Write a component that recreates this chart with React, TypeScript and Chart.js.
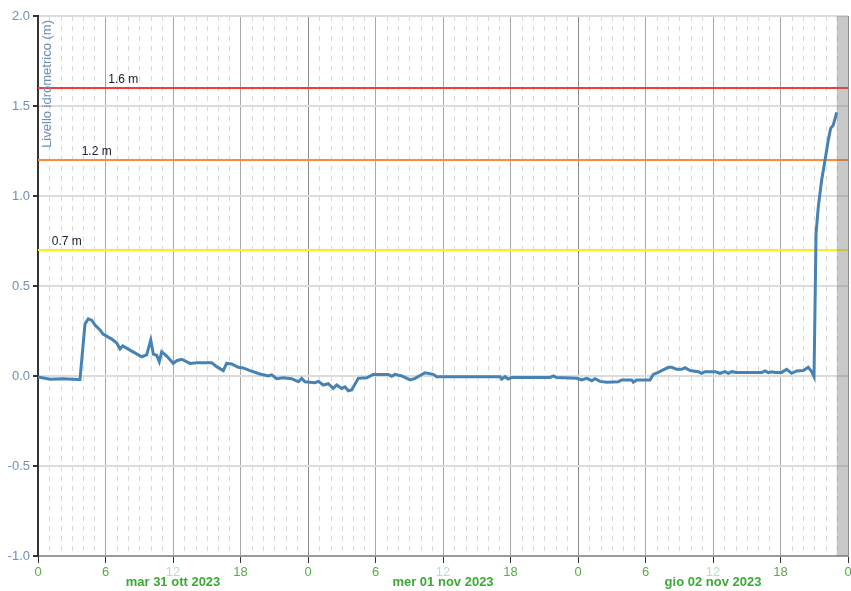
import React, { useEffect, useRef } from "react";
import { Chart, registerables } from "chart.js";

Chart.register(...registerables);

// Hours since mar 31 ott 2023 00:00
const hours = [
  0, 1.07, 2.22, 3.56, 3.73, 4.18, 4.47, 4.77, 5.07, 5.51, 5.78, 6.55, 7.0, 7.29, 7.53, 8.18,
  9.22, 9.66, 10.02, 10.25, 10.55, 10.78, 11.0, 11.44, 12.03, 12.33, 12.77, 13.51, 14.11, 15.44,
  15.88, 16.47, 16.77, 17.22, 17.8, 18.25, 18.84, 19.73, 20.47, 20.77, 21.22, 21.8, 22.55, 23.14,
  23.44, 23.73, 24.62, 24.92, 25.36, 25.8, 26.25, 26.55, 26.99, 27.29, 27.58, 27.88, 28.47, 29.22,
  29.8, 31.14, 31.44, 31.73, 32.33, 33.07, 33.51, 34.4, 35.14, 35.44, 41.07, 41.22, 41.51, 41.78,
  42.1, 45.51, 45.8, 46.1, 47.88, 48.33, 48.77, 49.22, 49.51, 49.96, 50.55, 51.58, 51.88, 52.77,
  52.92, 53.22, 54.4, 54.69, 55.14, 55.44, 56.03, 56.33, 56.77, 57.22, 57.51, 57.96, 58.69, 58.99,
  59.29, 60.18, 60.62, 61.07, 61.36, 61.66, 62.11, 64.33, 64.62, 64.92, 65.22, 65.51, 66.11, 66.55,
  66.99, 67.44, 68.03, 68.47, 68.77, 68.98, 69.16, 69.36, 69.66, 69.96, 70.25, 70.46, 70.69, 71.0,
];
const levels = [
  -0.005, -0.018, -0.015, -0.02, -0.02, 0.29, 0.317, 0.31, 0.283, 0.256, 0.233, 0.205, 0.183, 0.15, 0.167, 0.144,
  0.107, 0.117, 0.2, 0.122, 0.115, 0.08, 0.135, 0.111, 0.07, 0.085, 0.093, 0.07, 0.074, 0.074,
  0.052, 0.03, 0.07, 0.067, 0.048, 0.045, 0.03, 0.011, 0.0, 0.006, -0.015, -0.01, -0.015, -0.032,
  -0.013, -0.032, -0.037, -0.03, -0.05, -0.043, -0.069, -0.05, -0.069, -0.06, -0.082, -0.078, -0.013, -0.01,
  0.009, 0.009, -0.002, 0.009, 0.0, -0.022, -0.013, 0.018, 0.009, -0.004, -0.004, -0.017, -0.004, -0.017,
  -0.009, -0.009, 0.0, -0.009, -0.013, -0.022, -0.013, -0.026, -0.015, -0.03, -0.035, -0.032, -0.022, -0.022,
  -0.035, -0.022, -0.022, 0.009, 0.02, 0.03, 0.048, 0.048, 0.037, 0.037, 0.046, 0.03, 0.024, 0.015,
  0.024, 0.024, 0.015, 0.024, 0.015, 0.024, 0.019, 0.019, 0.028, 0.019, 0.024, 0.02, 0.02, 0.037,
  0.015, 0.028, 0.03, 0.048, 0.024, -0.004, 0.793, 0.94, 1.089, 1.2, 1.311, 1.376, 1.394, 1.465,
];

const thresholdValues = [1.6, 1.2, 0.7];
const thresholdLabels = ["1.6 m", "1.2 m", "0.7 m"];
const thresholdColors = ["#f43a3a", "#ff8a3a", "#f5f514"];
const thresholdLabelHours = [6.25, 3.88, 1.22];

const dayLabels = ["mar 31 ott 2023", "mer 01 nov 2023", "gio 02 nov 2023"];
const dayLabelHours = [12, 36, 60];
const yTitle = "Livello idrometrico (m)";
const bandStartHour = 71;
const xMin = 0;
const xMax = 72;
const yMin = -1;
const yMax = 2;

const FONT = "'Liberation Sans', Arial, sans-serif";

const decorPlugin = {
  id: "decor",
  beforeDatasetsDraw(chart: any) {
    const { ctx, chartArea: a, scales } = chart;
    const x = scales.x;
    ctx.save();
    ctx.strokeStyle = "#d9d9d9";
    ctx.lineWidth = 1;
    ctx.setLineDash([5, 5]);
    for (let h = xMin + 1; h < xMax; h++) {
      if (h % 6 === 0) continue;
      const px = Math.round(x.getPixelForValue(h)) + 0.5;
      ctx.beginPath();
      ctx.moveTo(px, a.top);
      ctx.lineTo(px, a.bottom);
      ctx.stroke();
    }
    ctx.restore();
  },
  afterDatasetsDraw(chart: any) {
    const { ctx, chartArea: a, scales } = chart;
    const x = scales.x;
    const y = scales.y;
    ctx.save();
    // shaded band at the end
    const bx = x.getPixelForValue(bandStartHour);
    ctx.fillStyle = "rgba(120,120,120,0.4)";
    ctx.fillRect(bx, a.top, a.right - bx, a.bottom - a.top);
    // threshold labels
    ctx.fillStyle = "#1a1a2a";
    ctx.font = `12px ${FONT}`;
    ctx.textAlign = "left";
    ctx.textBaseline = "bottom";
    thresholdValues.forEach((v, i) => {
      ctx.fillText(thresholdLabels[i], x.getPixelForValue(thresholdLabelHours[i]), y.getPixelForValue(v) - 2);
    });
    // y-axis title inside plot
    ctx.save();
    ctx.translate(a.left + 9, a.top + 4);
    ctx.rotate(-Math.PI / 2);
    ctx.textAlign = "right";
    ctx.textBaseline = "middle";
    ctx.fillStyle = "#6f8fba";
    ctx.font = `13px ${FONT}`;
    ctx.fillText(yTitle, 0, 0);
    ctx.restore();
    // day labels
    ctx.fillStyle = "#3aa935";
    ctx.font = `bold 13px ${FONT}`;
    ctx.textAlign = "center";
    ctx.textBaseline = "middle";
    dayLabelHours.forEach((h, i) => {
      ctx.fillText(dayLabels[i], x.getPixelForValue(h), a.bottom + 26);
    });
    ctx.restore();
  },
};

export default function App() {
  const ref = useRef<HTMLCanvasElement | null>(null);
  useEffect(() => {
    document.body.style.margin = "0";
    const canvas = ref.current!;
    const thresholdSets = thresholdValues.map((v, i) => ({
      label: thresholdLabels[i],
      data: [
        { x: xMin, y: v },
        { x: xMax, y: v },
      ],
      borderColor: thresholdColors[i],
      borderWidth: 2,
      pointRadius: 0,
      order: 2,
    }));
    const chart = new Chart(canvas, {
      type: "line",
      data: {
        datasets: [
          ...thresholdSets,
          {
            label: "Livello",
            data: hours.map((h, i) => ({ x: h, y: levels[i] })),
            borderColor: "#4682b4",
            borderWidth: 3,
            pointRadius: 0,
            tension: 0,
            order: 1,
          },
        ],
      },
      options: {
        animation: false,
        responsive: false,
        layout: { autoPadding: false, padding: { top: 16, right: 3, left: 0, bottom: 0 } },
        plugins: { legend: { display: false }, tooltip: { enabled: false } },
        scales: {
          x: {
            type: "linear",
            min: xMin,
            max: xMax,
            afterFit: (s: any) => {
              s.height = 35;
              s.paddingLeft = 0;
              s.paddingRight = 0;
            },
            afterBuildTicks: (s: any) => {
              const t = [];
              for (let h = xMin; h <= xMax; h += 6) t.push({ value: h });
              s.ticks = t;
            },
            ticks: {
              autoSkip: false,
              maxRotation: 0,
              padding: 2,
              font: { size: 13, family: FONT },
              color: (c: any) => (c.tick && c.tick.value % 24 === 12 ? "#b9ddc0" : "#5aab45"),
              callback: (v: any) => String(Number(v) % 24),
            },
            grid: {
              color: (c: any) => (c.tick && c.tick.value % 24 === 0 ? "#8a8a8a" : "#a8a8a8"),
              lineWidth: 1,
              tickLength: 7,
              tickColor: "#333",
            },
            border: { color: "#9a9a9a", width: 2 },
          },
          y: {
            min: yMin,
            max: yMax,
            afterFit: (s: any) => {
              s.width = 38;
              s.paddingTop = 0;
              s.paddingBottom = 0;
            },
            ticks: {
              stepSize: 0.5,
              padding: 3,
              font: { size: 13, family: FONT },
              color: "#6f8fba",
              callback: (v: any) => Number(v).toFixed(1),
            },
            grid: {
              color: "#dcdcdc",
              lineWidth: 2,
              tickLength: 5,
              tickColor: "#333",
            },
            border: { color: "#333", width: 2 },
          },
        },
      },
      plugins: [decorPlugin],
    });
    return () => chart.destroy();
  }, []);
  return (
    <div style={{ width: 851, height: 591, background: "#fff" }}>
      <canvas ref={ref} width={851} height={591} />
    </div>
  );
}
